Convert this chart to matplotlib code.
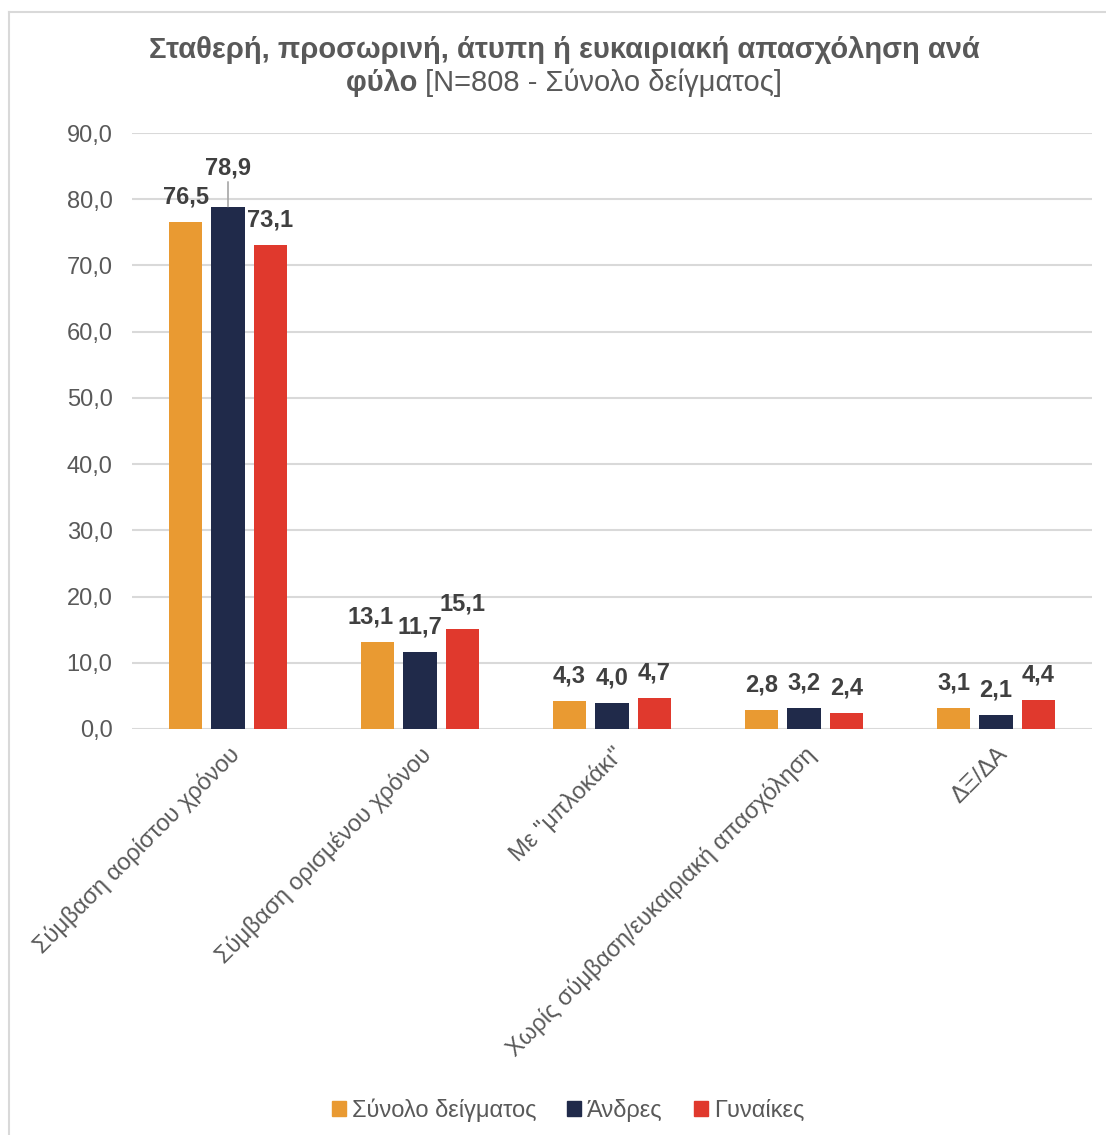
import matplotlib
matplotlib.use('Agg')
import matplotlib.pyplot as plt
from matplotlib.patches import Patch
from matplotlib.lines import Line2D
import numpy as np

plt.rcParams['font.family'] = ['Liberation Sans', 'DejaVu Sans']

categories = ['Σύμβαση αορίστου χρόνου', 'Σύμβαση ορισμένου χρόνου', 'Με "μπλοκάκι"',
              'Χωρίς σύμβαση/ευκαιριακή απασχόληση', 'ΔΞ/ΔΑ']
series_names = ['Σύνολο δείγματος', 'Άνδρες', 'Γυναίκες']
total = [76.5, 13.1, 4.3, 2.8, 3.1]
men = [78.9, 11.7, 4.0, 3.2, 2.1]
women = [73.1, 15.1, 4.7, 2.4, 4.4]
colors = ['#E99A32', '#202A4A', '#E0392D']
yticks = [0, 10, 20, 30, 40, 50, 60, 70, 80, 90]

W, H = 1106, 1135
fig = plt.figure(figsize=(W / 100, H / 100), dpi=100)
ax = fig.add_axes([132 / W, 1 - 729 / H, 960 / W, 596 / H])

x = np.arange(len(categories))
width = 0.172
step = 0.221
for i, (vals, col) in enumerate(zip([total, men, women], colors)):
    xs = x + (i - 1) * step
    ax.bar(xs, vals, width, color=col, zorder=3)
    for xi, v in zip(xs, vals):
        lab = f'{v:.1f}'.replace('.', ',')
        if i == 1 and v > 78:
            ax.annotate(lab, xy=(xi, v), xytext=(0, 28), textcoords='offset points',
                        ha='center', va='center', fontsize=17, fontweight='bold',
                        color='#404040',
                        arrowprops=dict(arrowstyle='-', color='#a6a6a6', lw=1.2,
                                        shrinkA=0, shrinkB=0))
        else:
            # small nudge so neighbouring labels don't collide
            dx = -5 if (i == 0 and v < 20 and v > 10) else 0
            ax.annotate(lab, xy=(xi, v), xytext=(dx, 18), textcoords='offset points',
                        ha='center', va='center', fontsize=17, fontweight='bold',
                        color='#404040')

ax.set_xlim(-0.5, len(categories) - 0.5)
ax.set_ylim(0, 90)
ax.set_yticks(yticks)
ax.set_yticklabels([f'{t:.1f}'.replace('.', ',') for t in yticks], fontsize=17, color='#595959')
ax.yaxis.grid(True, color='#d9d9d9', lw=1.5, zorder=0)
ax.set_axisbelow(True)
for s in ax.spines.values():
    s.set_visible(False)
ax.tick_params(axis='both', length=0)
ax.tick_params(axis='y', pad=14)
ax.set_xticks(x)
ax.set_xticklabels(categories, rotation=45, ha='right', va='top', rotation_mode='anchor',
                   fontsize=17, color='#595959')
ax.tick_params(axis='x', pad=10)

# title
fig.text(564 / W, 1 - 50 / H, 'Σταθερή, προσωρινή, άτυπη ή ευκαιριακή απασχόληση ανά',
         ha='center', va='center', fontsize=21, fontweight='bold', color='#595959')
t1 = fig.text(0, 1 - 83 / H, 'φύλο ', ha='left', va='center', fontsize=21,
              fontweight='bold', color='#595959')
t2 = fig.text(0, 1 - 83 / H, '[N=808 - Σύνολο δείγματος]', ha='left', va='center',
              fontsize=21, color='#595959')
r = fig.canvas.get_renderer()
w1 = t1.get_window_extent(r).width
w2 = t2.get_window_extent(r).width
x0 = 564 - (w1 + w2) / 2
t1.set_x(x0 / W)
t2.set_x((x0 + w1) / W)

handles = [Patch(color=c) for c in colors]
fig.legend(handles, series_names, loc='center', bbox_to_anchor=(568 / W, 1 - 1110 / H),
           ncol=3, frameon=False, fontsize=17, handlelength=0.6, handleheight=0.6,
           handletextpad=0.25, columnspacing=1.3, labelcolor='#595959')

# chart border (top and left edges visible)
fig.add_artist(Line2D([9 / W, 9 / W], [0, 1 - 12 / H], color='#d9d9d9', lw=1.5))
fig.add_artist(Line2D([9 / W, 1], [1 - 12 / H, 1 - 12 / H], color='#d9d9d9', lw=1.5))

fig.savefig('out.png', dpi=100)
